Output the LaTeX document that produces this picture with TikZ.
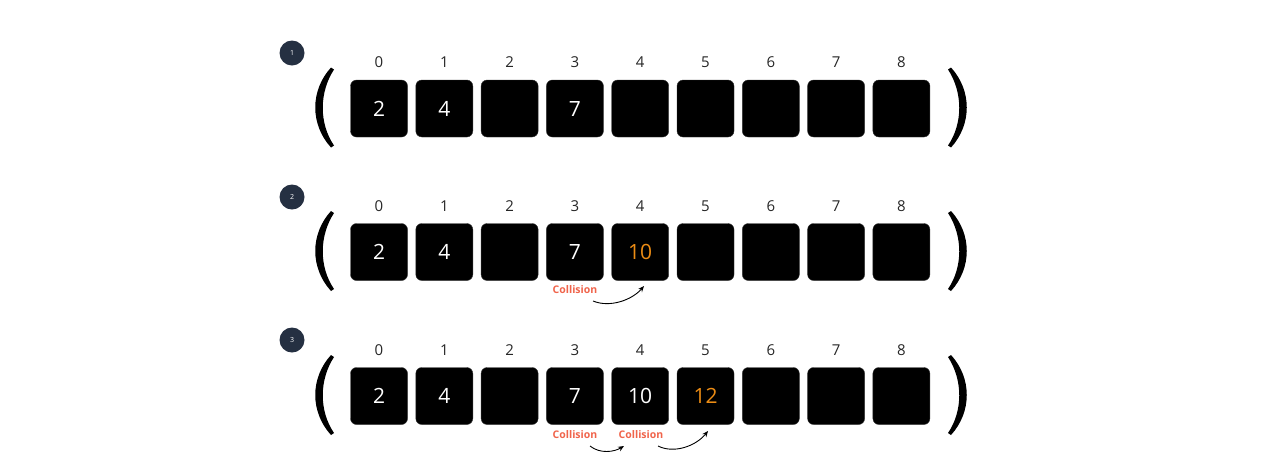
\documentclass[tikz,border=0pt]{standalone}
\usepackage{fontspec}
\setmainfont{Open Sans}
\usetikzlibrary{arrows.meta}
\definecolor{navy}{RGB}{37,48,66}
\definecolor{hit}{RGB}{236,140,20}
\definecolor{coll}{RGB}{240,100,75}
\tikzset{
  cell/.style={fill=black,draw=black!80,rounded corners=6pt,minimum width=57pt,minimum height=57pt,inner sep=0pt,text=white,font=\fontsize{21}{24}\selectfont},
  idx/.style={font=\fontsize{15}{17}\selectfont,text=black!85,inner sep=0pt,anchor=base},
  stepnum/.style={circle,fill=navy,text=white,minimum size=25pt,inner sep=0pt,font=\fontsize{7}{8}\selectfont},
  colltext/.style={text=coll,font=\bfseries\fontsize{10.5}{12}\selectfont,inner sep=0pt},
  curvearrow/.style={-{Stealth[length=6pt,width=5pt]},line width=0.9pt},
  paren/.style={fill=black}
}
\begin{document}
\begin{tikzpicture}[x=1pt,y=-1pt]
\useasboundingbox (0,0) rectangle (1287,467);
% rows
\foreach \r/\y/\ny/\a/\b/\c/\d/\e in {1/108.5/53/2/4//7/,2/252/197/2/4//7/{\textcolor{hit}{10}},3/396/340/2/4//7/10}{
  \node[stepnum] (s\r) at (292,\ny) {\r};
  \node[cell] (c\r-0) at (379,\y) {\a};
  \node[cell] (c\r-1) at (444.3,\y) {\b};
  \node[cell] (c\r-2) at (509.6,\y) {\c};
  \node[cell] (c\r-3) at (574.9,\y) {\d};
  \node[cell] (c\r-4) at (640.2,\y) {\e};
  \foreach \i in {0,...,8}{
    \node[idx] (l\r-\i) at ({379+65.3*\i},{\y-41}) {\i};
  }
  % parens
  \fill[paren] (331,{\y-41}) .. controls (310,{\y-18}) and (310,{\y+16}) .. (331,{\y+39})
     -- (334,{\y+37}) .. controls (319,{\y+15}) and (319,{\y-16}) .. (334,{\y-39}) -- cycle;
  \fill[paren] (951,{\y-41}) .. controls (972,{\y-18}) and (972,{\y+16}) .. (951,{\y+39})
     -- (948,{\y+37}) .. controls (963,{\y+15}) and (963,{\y-16}) .. (948,{\y-39}) -- cycle;
}
\foreach \r/\y/\v in {1/108.5/,2/252/,3/396/{\textcolor{hit}{12}}}{
  \node[cell] (c\r-5) at (705.5,\y) {\v};
  \node[cell] (c\r-6) at (770.8,\y) {};
  \node[cell] (c\r-7) at (836.1,\y) {};
  \node[cell] (c\r-8) at (901.4,\y) {};
}
% collisions row 2
\node[colltext] (k2) at (575,290) {Collision};
\coordinate (k2s) at (593,301);
\coordinate (k2e) at (644,286);
\draw[curvearrow] (k2s) .. controls (610,308) and (632,300) .. (k2e);
% collisions row 3
\node[colltext] (k3a) at (575,435) {Collision};
\node[colltext] (k3b) at (641,435) {Collision};
\coordinate (k3as) at (590,446);
\coordinate (k3ae) at (624,446);
\coordinate (k3bs) at (658,446);
\coordinate (k3be) at (708,431);
\draw[curvearrow] (k3as) .. controls (600,454) and (614,452) .. (k3ae);
\draw[curvearrow] (k3bs) .. controls (674,454) and (696,446) .. (k3be);
\end{tikzpicture}
\end{document}
